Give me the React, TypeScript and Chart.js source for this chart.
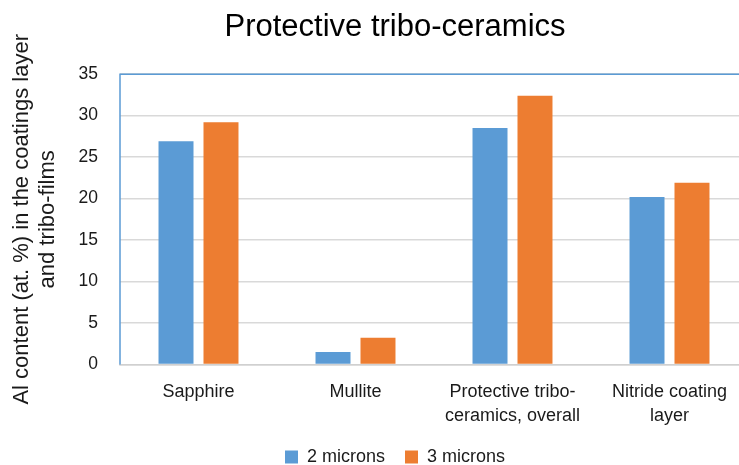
import { useEffect, useRef } from "react";
import { Chart, registerables } from "chart.js";

Chart.register(...registerables);

const categories: string[][] = [
  ["Sapphire"],
  ["Mullite"],
  ["Protective tribo-", "ceramics, overall"],
  ["Nitride coating", "layer"],
];
const seriesNames = ["2 microns", "3 microns"];
const values2 = [26.9, 1.5, 28.5, 20.2];
const values3 = [29.2, 3.2, 32.4, 21.9];
const yMin = 0;
const yMax = 35;
const yStep = 5;
const titleText = "Protective tribo-ceramics";
const yTitle = ["Al content (at. %) in the coatings layer", "and tribo-films"];

const FONT = "'Liberation Sans', Arial, sans-serif";
const TEXT = "#1a1a1a";

const framePlugin = {
  id: "frame",
  afterDatasetsDraw(chart: any) {
    const { ctx, chartArea } = chart;
    const { left, top, right, bottom } = chartArea;
    ctx.save();
    ctx.strokeStyle = "#5b9bd5";
    ctx.lineWidth = 1.5;
    ctx.beginPath();
    ctx.moveTo(left, bottom);
    ctx.lineTo(left, top);
    ctx.lineTo(right, top);
    ctx.lineTo(right, bottom);
    ctx.stroke();
    ctx.restore();
  },
};

export default function App() {
  const ref = useRef<HTMLCanvasElement>(null);
  useEffect(() => {
    Chart.defaults.font.family = FONT;
    Chart.defaults.color = TEXT;
    const chart = new Chart(ref.current!, {
      type: "bar",
      data: {
        labels: categories,
        datasets: [
          {
            label: seriesNames[0],
            data: values2,
            backgroundColor: "#5b9bd5",
            categoryPercentage: 0.573,
            barPercentage: 0.778,
          },
          {
            label: seriesNames[1],
            data: values3,
            backgroundColor: "#ed7d31",
            categoryPercentage: 0.573,
            barPercentage: 0.778,
          },
        ],
      },
      options: {
        responsive: false,
        animation: false,
        layout: { padding: 0 },
        plugins: {
          title: {
            display: true,
            text: titleText,
            color: "#000",
            font: { size: 31, weight: "normal", family: FONT, lineHeight: 1.2 },
            padding: { top: 9, bottom: 28 },
          },
          legend: {
            position: "bottom",
            labels: {
              boxWidth: 13,
              boxHeight: 13,
              padding: 20,
              color: TEXT,
              font: { size: 18, family: FONT },
            },
          },
          tooltip: { enabled: false },
        },
        scales: {
          x: {
            grid: { display: false, drawTicks: false },
            border: { display: true, color: "#d0d0d0", width: 1.5 },
            ticks: {
              color: TEXT,
              padding: 15,
              font: { size: 18, family: FONT, lineHeight: 1.35 },
              maxRotation: 0,
              autoSkip: false,
            },
            afterFit(s: any) {
              s.height = 63.6;
            },
          },
          y: {
            min: yMin,
            max: yMax,
            grid: { color: "#d9d9d9", lineWidth: 1.5, drawTicks: false },
            border: { display: false },
            ticks: {
              stepSize: yStep,
              color: TEXT,
              padding: 22,
              font: { size: 17.5, family: FONT },
            },
            title: {
              display: true,
              text: yTitle,
              color: TEXT,
              font: { size: 22, family: FONT, lineHeight: 1.2 },
              padding: { top: 8.8, bottom: 10 },
            },
            afterFit(s: any) {
              s.width = 120;
            },
          },
          yr: {
            position: "right",
            display: true,
            grid: { display: false, drawTicks: false },
            border: { display: false },
            ticks: { display: false },
            afterFit(s: any) {
              s.width = 42;
            },
          },
        },
      },
      plugins: [framePlugin],
    });
    return () => chart.destroy();
  }, []);
  return (
    <div
      style={{
        position: "fixed",
        left: 0,
        top: 0,
        width: 739,
        height: 465,
        overflow: "hidden",
        background: "#fff",
      }}
    >
      <canvas
        ref={ref}
        width={790}
        height={476}
        style={{ display: "block", width: 790, height: 476 }}
      />
    </div>
  );
}
